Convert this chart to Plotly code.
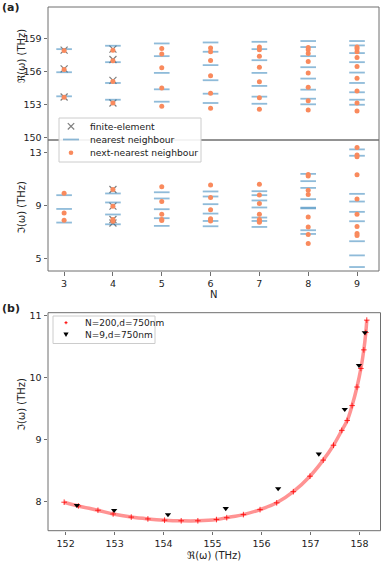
import plotly.graph_objects as go

W, H = 382, 564

# ---------------- data: panel (a) ----------------
N_vals = [3, 4, 5, 6, 7, 8, 9]

# real part, nearest neighbour (lines)
re_nn = [
    [158.05, 155.94, 153.74],
    [158.36, 156.86, 154.96, 153.43],
    [158.57, 157.41, 155.88, 154.38, 153.25],
    [158.66, 157.81, 156.59, 155.21, 153.98, 153.13],
    [158.72, 158.05, 157.04, 155.88, 154.69, 153.71, 153.06],
    [158.79, 158.24, 157.41, 156.40, 155.36, 154.35, 153.52, 153.01],
    [158.79, 158.39, 157.69, 156.86, 155.91, 154.96, 154.11, 153.43, 152.97],
]
# real part, next-nearest neighbour (dots)
re_nnn = [
    [157.93, 156.20, 153.65],
    [157.96, 157.00, 155.10, 153.13],
    [158.11, 157.60, 156.34, 154.50, 152.83],
    [158.15, 157.81, 157.01, 155.63, 154.02, 152.64],
    [158.24, 157.99, 157.41, 156.40, 155.06, 153.61, 152.55],
    [158.20, 157.99, 157.65, 156.92, 155.88, 154.57, 153.34, 152.48],
    [158.24, 158.08, 157.81, 157.29, 156.46, 155.40, 154.23, 153.13, 152.39],
]
# real part, finite element (crosses)
fe_N_re = [3, 4]
re_fe = [
    [157.96, 156.25, 153.68],
    [158.05, 157.10, 155.20, 153.13],
]

# imaginary part, nearest neighbour (lines)
im_nn = [
    [9.78, 8.74, 7.71],
    [9.91, 9.23, 8.32, 7.58],
    [10.00, 9.53, 8.72, 8.04, 7.46],
    [10.06, 9.68, 9.10, 8.39, 7.83, 7.43],
    [10.08, 9.78, 9.38, 8.85, 8.09, 7.83, 7.38],
    [11.39, 10.84, 10.33, 9.48, 8.84, 8.78, 7.13, 6.85],
    [13.24, 12.76, 9.88, 9.30, 8.52, 7.81, 6.30, 5.23, 4.35],
]
# imaginary part, next-nearest neighbour (dots)
im_nnn = [
    [9.93, 8.44, 7.89],
    [10.21, 8.95, 7.94, 7.81],
    [10.41, 9.30, 8.34, 7.94, 7.86],
    [10.54, 9.61, 8.67, 7.99, 7.90, 7.83],
    [10.61, 9.80, 9.15, 8.34, 7.94, 7.81, 7.73],
    [11.35, 11.22, 10.16, 9.83, 8.14, 7.38, 6.80, 6.12],
    [13.39, 12.81, 12.68, 11.32, 9.50, 8.34, 7.41, 6.88, 6.73],
]
# imaginary part, finite element (crosses)
fe_N_im = [4]
im_fe = [
    [10.21, 8.95, 7.94, 7.68],
]

re_ticks = [150, 153, 156, 159]
im_ticks = [5, 9, 13]
legend_a_labels = ["finite-element", "nearest neighbour", "next-nearest neighbour"]

# ---------------- data: panel (b) ----------------
chain_re = [151.97, 152.26, 152.66, 152.97, 153.34, 153.68, 154.02, 154.36, 154.70,
            155.08, 155.29, 155.63, 155.97, 156.31, 156.65, 156.99, 157.26, 157.47,
            157.64, 157.75, 157.85, 157.95, 158.03, 158.09, 158.13, 158.15]
chain_im = [7.99, 7.93, 7.86, 7.80, 7.75, 7.72, 7.70, 7.69, 7.69,
            7.71, 7.74, 7.79, 7.87, 7.98, 8.16, 8.41, 8.67, 8.91,
            9.15, 9.31, 9.55, 9.85, 10.15, 10.45, 10.73, 10.93]
n9_re = [152.23, 152.99, 154.09, 155.27, 156.34, 157.17, 157.70, 157.99, 158.11]
n9_im = [7.94, 7.86, 7.79, 7.89, 8.21, 8.77, 9.49, 10.20, 10.73]
b_xticks = [152, 153, 154, 155, 156, 157, 158]
b_yticks = [8, 9, 10, 11]
legend_b_labels = ["N=200,d=750nm", "N=9,d=750nm"]

# ---------------- styling ----------------
FONT = "DejaVu Sans"
BLUE = "rgba(31,119,180,0.5)"
ORANGE = "#f98a5d"
GRAY = "#7f7f7f"
FRAME = "#6e6e6e"
TXT = "#222"
HALF = 0.16


def px_x(p):
    return p / W


def px_y(p):
    return 1 - p / H


def hline_xy(Ns, groups):
    xs, ys = [], []
    for n, vals in zip(Ns, groups):
        for v in vals:
            xs += [n - HALF, n + HALF, None]
            ys += [v, v, None]
    return xs, ys


def pts_xy(Ns, groups):
    xs, ys = [], []
    for n, vals in zip(Ns, groups):
        for v in vals:
            xs.append(n)
            ys.append(v)
    return xs, ys


fig = go.Figure()
cross_marker = dict(symbol="x-thin", size=7, line=dict(color=GRAY, width=1.2), color=GRAY)
dot_marker = dict(symbol="circle", size=5, color=ORANGE)

# --- top (real) subplot
x, y = pts_xy(fe_N_re, re_fe)
fig.add_trace(go.Scatter(x=x, y=y, mode="markers", xaxis="x", yaxis="y", marker=cross_marker))
x, y = hline_xy(N_vals, re_nn)
fig.add_trace(go.Scatter(x=x, y=y, mode="lines", xaxis="x", yaxis="y", line=dict(color=BLUE, width=1.8)))
x, y = pts_xy(N_vals, re_nnn)
fig.add_trace(go.Scatter(x=x, y=y, mode="markers", xaxis="x", yaxis="y", marker=dot_marker))

# --- bottom (imag) subplot
x, y = pts_xy(fe_N_im, im_fe)
fig.add_trace(go.Scatter(x=x, y=y, mode="markers", xaxis="x", yaxis="y2", marker=cross_marker))
x, y = hline_xy(N_vals, im_nn)
fig.add_trace(go.Scatter(x=x, y=y, mode="lines", xaxis="x", yaxis="y2", line=dict(color=BLUE, width=1.8)))
x, y = pts_xy(N_vals, im_nnn)
fig.add_trace(go.Scatter(x=x, y=y, mode="markers", xaxis="x", yaxis="y2", marker=dot_marker))

# --- panel (b)
fig.add_trace(go.Scatter(x=chain_re, y=chain_im, mode="lines", xaxis="x2", yaxis="y3",
                         line=dict(color="rgba(255,40,40,0.5)", width=3.5, shape="spline")))
fig.add_trace(go.Scatter(x=chain_re, y=chain_im, mode="markers", xaxis="x2", yaxis="y3",
                         marker=dict(symbol="cross-thin", size=4, line=dict(color="rgba(255,0,0,0.8)", width=1),
                                     color="red")))
fig.add_trace(go.Scatter(x=n9_re, y=n9_im, mode="markers", xaxis="x2", yaxis="y3",
                         marker=dict(symbol="triangle-down", size=5.5, color="black")))

tick_font = dict(family=FONT, size=9.5, color=TXT)
common = dict(showgrid=False, zeroline=False, showline=False, ticks="outside", automargin=False,
              ticklen=3.5, tickwidth=1, tickcolor=FRAME, tickfont=tick_font)

a_x0, a_x1 = px_x(48), px_x(379)
top_y0, top_y1 = px_y(140), px_y(7)
bot_y0, bot_y1 = px_y(271), px_y(140)
b_x0, b_x1 = px_x(48), px_x(380.5)
b_y0, b_y1 = px_y(530.7), px_y(312.7)

fig.update_layout(
    template="none",
    width=W, height=H,
    margin=dict(l=0, r=0, t=0, b=0, autoexpand=False),
    paper_bgcolor="white", plot_bgcolor="white",
    font=dict(family=FONT, size=10, color=TXT),
    showlegend=False,
    xaxis=dict(domain=[a_x0, a_x1], anchor="y2", range=[2.67, 9.45], tickvals=N_vals, **common),
    yaxis=dict(domain=[top_y0, top_y1], anchor="x", range=[149.75, 161.9], tickvals=re_ticks, **common),
    yaxis2=dict(domain=[bot_y0, bot_y1], anchor="x", range=[4.05, 13.95], tickvals=im_ticks, **common),
    xaxis2=dict(domain=[b_x0, b_x1], anchor="y3", range=[151.64, 158.43], tickvals=b_xticks, **common),
    yaxis3=dict(domain=[b_y0, b_y1], anchor="x2", range=[7.53, 11.05], tickvals=b_yticks, **common),
)

# frames
for (x0, x1, y0, y1) in [(a_x0, a_x1, top_y0, top_y1), (a_x0, a_x1, bot_y0, bot_y1),
                         (b_x0, b_x1, b_y0, b_y1)]:
    fig.add_shape(type="rect", xref="paper", yref="paper", x0=x0, x1=x1, y0=y0, y1=y1,
                  line=dict(color=FRAME, width=1), layer="above")


def pshape(**kw):
    fig.add_shape(xref="paper", yref="paper", layer="above", **kw)


def ptext(text, xp, yp, size=9, xanchor="left", angle=0):
    fig.add_annotation(text=text, x=px_x(xp), y=px_y(yp), xref="paper", yref="paper",
                       xanchor=xanchor, yanchor="middle", textangle=angle, showarrow=False,
                       font=dict(family=FONT, size=size, color=TXT))


# ---- legend (a), drawn by hand to get matplotlib's compact spacing
pshape(type="rect", x0=px_x(59), x1=px_x(201), y0=px_y(162), y1=px_y(118),
       line=dict(color="#cccccc", width=1), fillcolor="rgba(255,255,255,0.9)")
rows_a = [126.3, 139.5, 152.8]
r = 3.2
pshape(type="line", x0=px_x(71 - r), x1=px_x(71 + r), y0=px_y(rows_a[0] - r), y1=px_y(rows_a[0] + r),
       line=dict(color=GRAY, width=1.2))
pshape(type="line", x0=px_x(71 - r), x1=px_x(71 + r), y0=px_y(rows_a[0] + r), y1=px_y(rows_a[0] - r),
       line=dict(color=GRAY, width=1.2))
pshape(type="line", x0=px_x(63), x1=px_x(79), y0=px_y(rows_a[1]), y1=px_y(rows_a[1]),
       line=dict(color=BLUE, width=1.8))
pshape(type="circle", x0=px_x(71 - 2.3), x1=px_x(71 + 2.3), y0=px_y(rows_a[2] + 2.3), y1=px_y(rows_a[2] - 2.3),
       line=dict(width=0), fillcolor=ORANGE)
for lab, yy in zip(legend_a_labels, rows_a):
    ptext(lab, 88, yy, size=9.2)

# ---- legend (b)
pshape(type="rect", x0=px_x(53), x1=px_x(155), y0=px_y(343.5), y1=px_y(316),
       line=dict(color="#cccccc", width=1), fillcolor="rgba(255,255,255,0.9)")
rows_b = [322.7, 334.5]
pshape(type="line", x0=px_x(64.5), x1=px_x(67.5), y0=px_y(rows_b[0]), y1=px_y(rows_b[0]),
       line=dict(color="red", width=1))
pshape(type="line", x0=px_x(66), x1=px_x(66), y0=px_y(rows_b[0] - 1.5), y1=px_y(rows_b[0] + 1.5),
       line=dict(color="red", width=1))
tx, ty = 66, rows_b[1]
pshape(type="path",
       path=f"M {px_x(tx - 2.6)},{px_y(ty - 2.0)} L {px_x(tx + 2.6)},{px_y(ty - 2.0)} L {px_x(tx)},{px_y(ty + 2.4)} Z",
       line=dict(width=0), fillcolor="black")
for lab, yy in zip(legend_b_labels, rows_b):
    ptext(lab, 82.5, yy, size=9)

# ---- panel labels & axis titles
ptext("<b>(a)</b>", 0, 7, size=11)
ptext("<b>(b)</b>", 0, 308, size=11)
ptext("ℜ(ω) (THz)", 21, 56, size=10, xanchor="center", angle=-90)
ptext("ℑ(ω) (THz)", 21, 208, size=10, xanchor="center", angle=-90)
ptext("N", 213, 294, size=10, xanchor="center")
ptext("ℑ(ω) (THz)", 21, 405, size=10, xanchor="center", angle=-90)
ptext("ℜ(ω) (THz)", 214, 555, size=10, xanchor="center")

fig.write_html("out.html",
               config={"displayModeBar": False, "staticPlot": True},
               post_script="document.body.style.margin='0px';document.body.style.overflow='hidden';")
